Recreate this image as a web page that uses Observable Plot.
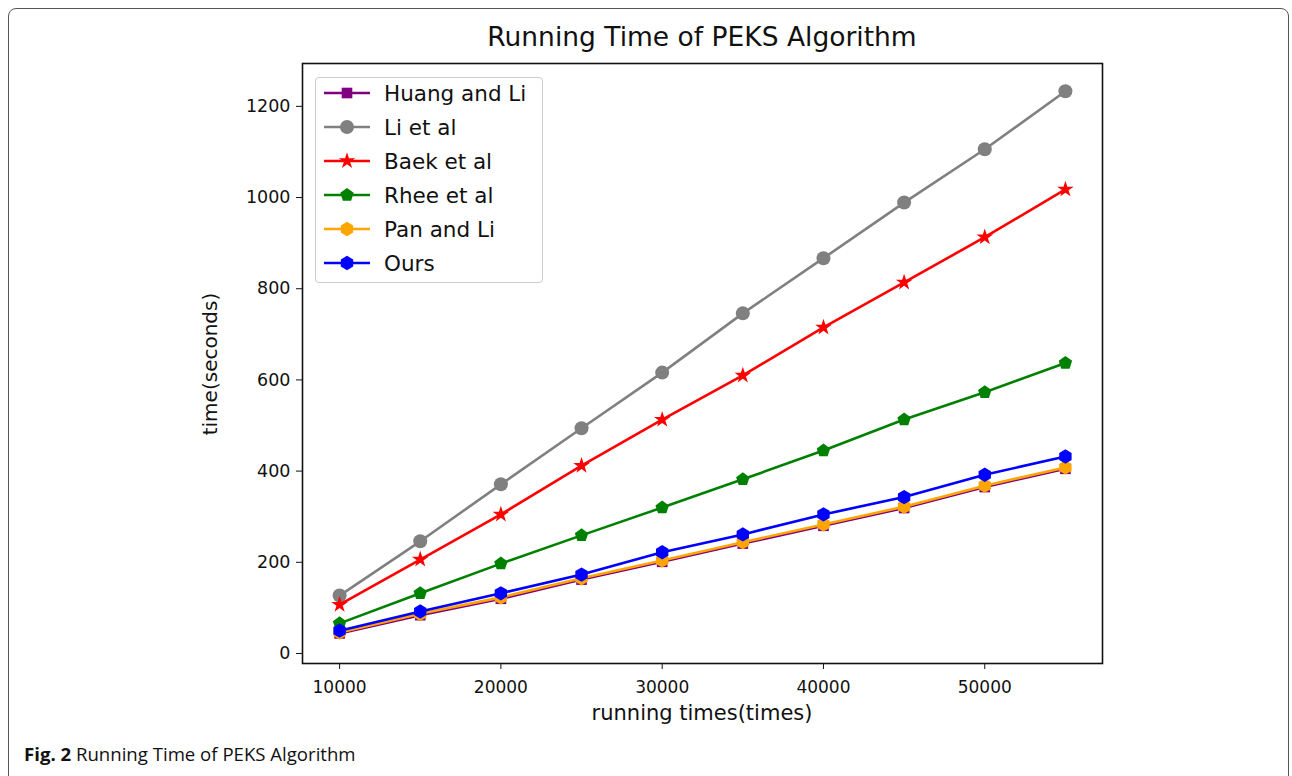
<!DOCTYPE html>
<html>
<head>
<meta charset="utf-8">
<script src="https://cdn.jsdelivr.net/npm/d3@7"></script>
<script src="https://cdn.jsdelivr.net/npm/@observablehq/plot@0.6"></script>
<style>
  html, body { margin: 0; padding: 0; background: #fff; }
  body { width: 1292px; height: 776px; position: relative; overflow: hidden; font-family: "DejaVu Sans", "Noto Sans", sans-serif; }
  #outer { position: absolute; left: 8px; top: 8px; width: 1281px; height: 800px; border: 1.5px solid #555; border-radius: 8px; box-sizing: border-box; }
  #chart { position: absolute; left: 0; top: 0; }
  #title { position: absolute; left: 302px; width: 800px; top: 21px; text-align: center; font-size: 26.5px; color: #111; }
  #xlabel { position: absolute; left: 302px; width: 800px; top: 701px; text-align: center; font-size: 21px; color: #111; }
  #ylabel { position: absolute; left: 210px; top: 364px; transform: translate(-50%, -50%) rotate(-90deg); white-space: nowrap; font-size: 20px; color: #111; }
  #legend { position: absolute; left: 315px; top: 77px; width: 228px; height: 206px; border: 1px solid #ccc; border-radius: 4px; background: rgba(255,255,255,0.85); box-sizing: border-box; }
  .item { position: absolute; left: 6px; height: 24px; display: flex; align-items: center; font-size: 21.5px; color: #111; }
  .item svg { margin-right: 12px; }
  #caption { position: absolute; left: 24px; top: 741px; font-family: "Open Sans", sans-serif; font-size: 18.6px; color: #111; }
</style>
</head>
<body>
<div id="outer"></div>
<div id="chart"></div>
<div id="title">Running Time of PEKS Algorithm</div>
<div id="xlabel">running times(times)</div>
<div id="ylabel">time(seconds)</div>
<div id="legend"></div>
<div id="caption"><b>Fig. 2</b> Running Time of PEKS Algorithm</div>
<script>
const runs = [10000, 15000, 20000, 25000, 30000, 35000, 40000, 45000, 50000, 55000];
const huangLi = [44, 84, 120, 162, 201, 241, 280, 319, 365, 405];
const liEtAl = [127, 246, 371, 494, 616, 746, 867, 989, 1106, 1233];
const baekEtAl = [107, 206, 305, 412, 513, 610, 715, 814, 913, 1018];
const rheeEtAl = [66, 132, 197, 259, 320, 382, 445, 513, 573, 637];
const panLi = [46, 87, 123, 165, 204, 244, 283, 322, 368, 408];
const ours = [50, 92, 132, 173, 222, 261, 305, 343, 392, 432];
const yTicks = [0, 200, 400, 600, 800, 1000, 1200];
const xTicks = [10000, 20000, 30000, 40000, 50000];

const pentagon = {
  draw(context, size) {
    const r = Math.sqrt(size / Math.PI) * 1.12;
    for (let i = 0; i < 5; i++) {
      const a = -Math.PI / 2 + i * 2 * Math.PI / 5;
      const x = r * Math.cos(a), y = r * Math.sin(a);
      if (i === 0) context.moveTo(x, y); else context.lineTo(x, y);
    }
    context.closePath();
  }
};
const hexagon = {
  draw(context, size) {
    const r = Math.sqrt(size / Math.PI) * 1.1;
    for (let i = 0; i < 6; i++) {
      const a = -Math.PI / 2 + i * Math.PI / 3;
      const x = r * Math.cos(a), y = r * Math.sin(a);
      if (i === 0) context.moveTo(x, y); else context.lineTo(x, y);
    }
    context.closePath();
  }
};

const series = [
  {name: "Huang and Li", values: huangLi, color: "#800080", symbol: "square", r: 6},
  {name: "Li et al", values: liEtAl, color: "#808080", symbol: "circle", r: 7},
  {name: "Baek et al", values: baekEtAl, color: "#ff0000", symbol: "star", r: 5.2},
  {name: "Rhee et al", values: rheeEtAl, color: "#008000", symbol: pentagon, r: 6.3},
  {name: "Pan and Li", values: panLi, color: "#ffa500", symbol: hexagon, r: 6.5},
  {name: "Ours", values: ours, color: "#0000ff", symbol: hexagon, r: 6.5}
];

const marks = [];
for (const s of series) {
  const data = runs.map((x, i) => ({x, y: s.values[i]}));
  marks.push(Plot.line(data, {x: "x", y: "y", stroke: s.color, strokeWidth: 2.6}));
  marks.push(Plot.dot(data, {x: "x", y: "y", fill: s.color, stroke: "none", symbol: s.symbol, r: s.r}));
}
marks.push(Plot.frame({stroke: "#111", strokeWidth: 1.6}));
marks.push(Plot.axisX({ticks: xTicks, tickFormat: d => String(d), tickSize: 6, tickPadding: 11, fontSize: 17, label: null}));
marks.push(Plot.axisY({ticks: yTicks, tickFormat: d => String(d), tickSize: 6, tickPadding: 6, fontSize: 17.5, label: null}));

const plot = Plot.plot({
  width: 1292,
  height: 776,
  marginLeft: 302,
  marginRight: 190,
  marginTop: 63,
  marginBottom: 113,
  style: {fontFamily: "DejaVu Sans, Noto Sans", fontSize: "17px", color: "#111", background: "transparent"},
  x: {domain: [7700, 57300]},
  y: {domain: [-22, 1294]},
  marks
});
document.getElementById("chart").appendChild(plot);

// legend
const legend = document.getElementById("legend");
series.forEach((s, i) => {
  const div = document.createElement("div");
  div.className = "item";
  div.style.top = (3 + i * 34) + "px";
  const svg = d3.create("svg").attr("width", 50).attr("height", 20);
  svg.append("line").attr("x1", 2).attr("x2", 48).attr("y1", 10).attr("y2", 10).attr("stroke", s.color).attr("stroke-width", 2.6);
  const symType = typeof s.symbol === "string" ? {square: d3.symbolSquare, circle: d3.symbolCircle, star: d3.symbolStar}[s.symbol] : s.symbol;
  svg.append("path").attr("transform", "translate(25,10)").attr("fill", s.color)
    .attr("d", d3.symbol(symType, Math.PI * s.r * s.r)());
  div.appendChild(svg.node());
  const span = document.createElement("span");
  span.textContent = s.name;
  div.appendChild(span);
  legend.appendChild(div);
});
</script>
</body>
</html>
